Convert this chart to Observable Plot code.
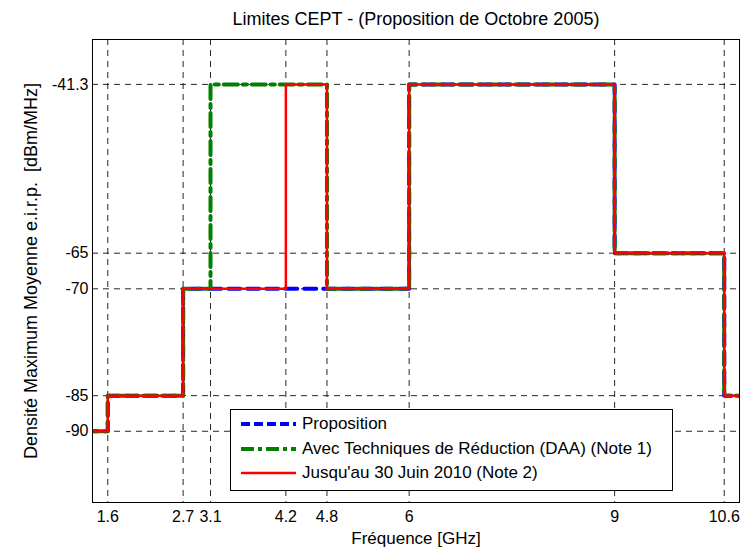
<!DOCTYPE html>
<html>
<head>
<meta charset="utf-8">
<script src="https://cdn.jsdelivr.net/npm/d3@7"></script>
<script src="https://cdn.jsdelivr.net/npm/@observablehq/plot@0.6"></script>
<style>
  body { margin: 0; background: #fff; font-family: "Liberation Sans", Arial, sans-serif; }
  #wrap { position: relative; width: 747px; height: 550px; }
  #legend { position: absolute; left: 230px; top: 409px; width: 441px; height: 80px;
            background: #fff; border: 1px solid #000; font-size: 17px; color: #000; }
  .entry { position: absolute; left: 10px; height: 20px; display: flex; align-items: center; white-space: nowrap; }
  .entry span { margin-left: 6px; }
</style>
</head>
<body>
<div id="wrap"></div>
<script>
const title = "Limites CEPT - (Proposition de Octobre 2005)";
const xLabel = "Fréquence [GHz]";
const yLabel = "Densité Maximum Moyenne e.i.r.p.  [dBm/MHz]";
const xTicks = [1.6, 2.7, 3.1, 4.2, 4.8, 6, 9, 10.6];
const yTicks = [-90, -85, -70, -65, -41.3];

const seriesNames = ["Proposition", "Avec Techniques de Réduction (DAA) (Note 1)", "Jusqu'au 30 Juin 2010 (Note 2)"];
const propX = [1, 1.6, 2.7, 6, 9, 10.6, 11];
const propY = [-90, -85, -70, -41.3, -65, -85, -85];
const daaX = [1, 1.6, 2.7, 3.1, 4.8, 6, 9, 10.6, 11];
const daaY = [-90, -85, -70, -41.3, -70, -41.3, -65, -85, -85];
const juinX = [1, 1.6, 2.7, 4.2, 4.8, 6, 9, 10.6, 11];
const juinY = [-90, -85, -70, -41.3, -70, -41.3, -65, -85, -85];

const toPts = (xs, ys) => xs.map((x, i) => ({x, y: ys[i]}));
const prop = toPts(propX, propY);
const daa = toPts(daaX, daaY);
const juin = toPts(juinX, juinY);

const styles = [
  {stroke: "#0000ff", strokeWidth: 4, strokeDasharray: "12,7", legendDash: "9,4"},
  {stroke: "#008000", strokeWidth: 4, strokeDasharray: "14,5,4,5", legendDash: "13,4,4,4"},
  {stroke: "#ff0000", strokeWidth: 2.5, strokeDasharray: null, legendDash: null}
];
const lineStyle = s => ({stroke: s.stroke, strokeWidth: s.strokeWidth, strokeDasharray: s.strokeDasharray});

const chart = Plot.plot({
  width: 747,
  height: 550,
  marginLeft: 92,
  marginRight: 8,
  marginTop: 39,
  marginBottom: 48,
  style: {fontFamily: "'Liberation Sans', Arial, sans-serif", fontSize: "16px", background: "#fff", color: "#000"},
  x: {domain: [1.377, 10.823], ticks: xTicks, tickFormat: d => String(d), label: null, tickSize: 0, tickPadding: 8},
  y: {domain: [-100, -35], ticks: yTicks, tickFormat: d => String(d), label: null, tickSize: 0, tickPadding: 4},
  marks: [
    Plot.gridX(xTicks, {stroke: "#000", strokeOpacity: 0.85, strokeDasharray: "6,5", strokeWidth: 1}),
    Plot.gridY(yTicks, {stroke: "#000", strokeOpacity: 0.85, strokeDasharray: "6,5", strokeWidth: 1}),
    Plot.line(prop, {x: "x", y: "y", curve: "step-after", clip: true, ...lineStyle(styles[0])}),
    Plot.line(daa, {x: "x", y: "y", curve: "step-after", clip: true, ...lineStyle(styles[1])}),
    Plot.line(juin, {x: "x", y: "y", curve: "step-after", clip: true, ...lineStyle(styles[2])}),
    Plot.frame({stroke: "#000", strokeWidth: 1}),
    Plot.text([title], {frameAnchor: "top", textAnchor: "middle", lineAnchor: "middle", dy: -20, fontSize: 18}),
    Plot.text([xLabel], {frameAnchor: "bottom", textAnchor: "middle", lineAnchor: "middle", dy: 36, fontSize: 17}),
    Plot.text([yLabel], {frameAnchor: "left", textAnchor: "middle", lineAnchor: "middle", dx: -61, rotate: -90, fontSize: 18})
  ]
});
const wrap = document.getElementById("wrap");
wrap.appendChild(chart);

const legend = document.createElement("div");
legend.id = "legend";
const tops = [4, 29, 53];
seriesNames.forEach((name, i) => {
  const e = document.createElement("div");
  e.className = "entry";
  e.style.top = tops[i] + "px";
  const s = styles[i];
  e.innerHTML = `<svg width="55" height="10"><line x1="0" y1="5" x2="55" y2="5" stroke="${s.stroke}" stroke-width="${s.strokeWidth}" ${s.legendDash ? `stroke-dasharray="${s.legendDash}"` : ""}/></svg><span>${name}</span>`;
  legend.appendChild(e);
});
wrap.appendChild(legend);
</script>
</body>
</html>
